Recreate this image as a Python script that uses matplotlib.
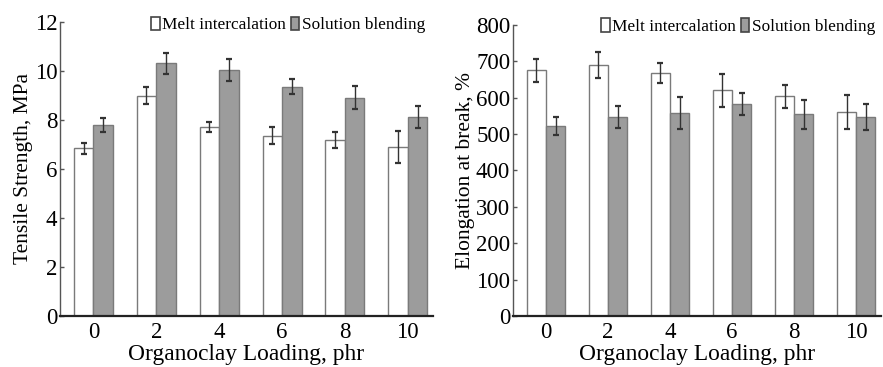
import matplotlib
matplotlib.use("Agg")
import matplotlib.pyplot as plt
import numpy as np
from matplotlib.patches import Patch

plt.rcParams['font.family'] = ['Liberation Serif', 'DejaVu Serif']

loading = ["0", "2", "4", "6", "8", "10"]

# Tensile strength, MPa
ts_melt = [6.85, 9.0, 7.7, 7.36, 7.18, 6.91]
ts_melt_err = [0.22, 0.35, 0.2, 0.34, 0.34, 0.65]
ts_sol = [7.8, 10.31, 10.04, 9.36, 8.91, 8.11]
ts_sol_err = [0.3, 0.44, 0.45, 0.3, 0.48, 0.45]

# Elongation at break, %
eb_melt = [675, 690, 668, 620, 604, 561]
eb_melt_err = [32, 37, 27, 45, 32, 46]
eb_sol = [523, 546, 557, 582, 554, 546]
eb_sol_err = [25, 30, 44, 30, 41, 36]

fig = plt.figure(figsize=(8.83, 3.67), dpi=100)
W, H = 883, 367

def px_axes(x0, x1, ytop, ybot):
    return fig.add_axes([x0 / W, 1 - ybot / H, (x1 - x0) / W, (ybot - ytop) / H])

ax1 = px_axes(60, 433, 22, 316)
ax2 = px_axes(513, 881, 25, 316)

white_fc = "white"
gray_fc = "#9c9c9c"
edge = "#7a7a7a"
bw = 0.31

def draw(ax, melt, melt_err, sol, sol_err, ymax, ystep, ylabel, leg_anchor):
    x = np.arange(len(loading))
    ax.bar(x - bw / 2, melt, bw, color=white_fc, edgecolor=edge, linewidth=1.0, zorder=2)
    ax.bar(x + bw / 2, sol, bw, color=gray_fc, edgecolor=edge, linewidth=1.0, zorder=2)
    ax.errorbar(x - bw / 2, melt, yerr=melt_err, fmt="none", ecolor="#333333",
                elinewidth=1.0, capsize=2, capthick=1.6, zorder=3)
    ax.errorbar(x + bw / 2, sol, yerr=sol_err, fmt="none", ecolor="#333333",
                elinewidth=1.0, capsize=2, capthick=1.6, zorder=3)
    ax.set_xlim(-0.53, 5.4)
    ax.set_ylim(0, ymax)
    ax.set_yticks(np.arange(0, ymax + 1e-9, ystep))
    ax.set_xticks(x)
    ax.set_xticklabels(loading)
    for s in ("top", "right"):
        ax.spines[s].set_visible(False)
    ax.spines["left"].set_color("#555555")
    ax.spines["left"].set_linewidth(1.0)
    ax.spines["bottom"].set_color("#222222")
    ax.spines["bottom"].set_linewidth(1.6)
    ax.tick_params(axis="y", direction="in", length=3, width=1, color="#555555",
                   labelsize=16.5, pad=2)
    ax.tick_params(axis="x", length=0, labelsize=16.5, pad=4)
    ax.set_xlabel("Organoclay Loading, phr", fontsize=16.8, labelpad=1)
    ax.set_ylabel(ylabel, fontsize=15.5, labelpad=1)
    handles = [Patch(facecolor=white_fc, edgecolor="#444444", linewidth=1.2),
               Patch(facecolor=gray_fc, edgecolor="#444444", linewidth=1.2)]
    ax.legend(handles, ["Melt intercalation", "Solution blending"], loc="center right",
              bbox_to_anchor=leg_anchor, ncol=2, frameon=False, fontsize=12.4,
              handlelength=0.5, handleheight=0.8, handletextpad=0.15,
              columnspacing=0.25, borderaxespad=0.0, borderpad=0.0)

draw(ax1, ts_melt, ts_melt_err, ts_sol, ts_sol_err, 12, 2, "Tensile Strength, MPa",
     (0.979, 0.99))
draw(ax2, eb_melt, eb_melt_err, eb_sol, eb_sol_err, 800, 100, "Elongation at break, %",
     (0.984, 0.994))

fig.savefig("out.png", dpi=100)
